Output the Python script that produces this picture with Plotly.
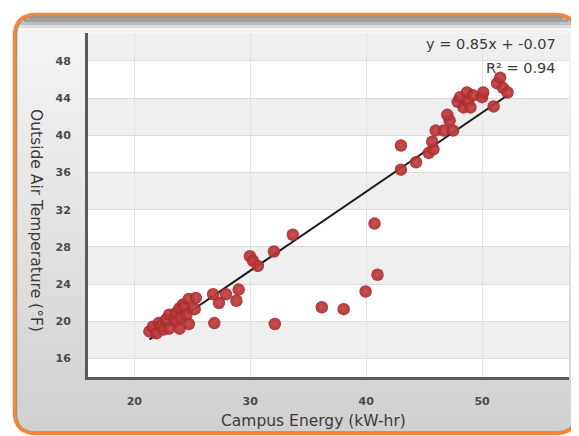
import numpy as np
import plotly.graph_objects as go

# ---- data ----
campus_energy = [21.3, 21.6, 21.9, 22.1, 22.3, 22.5, 22.75, 23.0, 23.0, 23.4, 23.6, 23.6, 23.9,
                 23.9, 24.0, 24.2, 24.3, 24.5, 24.7, 24.7, 25.2, 25.3, 26.8, 26.9, 27.3, 27.9,
                 28.8, 29.0, 29.97, 30.23, 30.66, 32.04, 33.67, 32.12, 36.17, 38.06, 39.95,
                 40.98, 40.72, 43.0, 43.0, 44.3, 45.4, 45.8, 45.7, 46.0, 46.7, 47.5, 47.2, 47.0,
                 47.9, 48.1, 48.4, 48.7, 48.8, 49.0, 49.2, 50.0, 50.1, 51.0, 51.3, 51.56, 51.8, 52.2]
outside_temp = [18.9, 19.4, 18.7, 19.8, 19.5, 19.1, 20.2, 19.2, 20.7, 20.3, 20.0, 20.9, 19.2,
                21.4, 20.4, 21.8, 21.6, 20.7, 19.7, 22.4, 21.3, 22.5, 22.9, 19.8, 21.95, 22.9,
                22.2, 23.4, 27.0, 26.5, 25.95, 27.5, 29.3, 19.7, 21.5, 21.3, 23.2,
                25.0, 30.5, 38.9, 36.3, 37.1, 38.1, 38.5, 39.3, 40.5, 40.5, 40.5, 41.6, 42.2,
                43.6, 44.1, 43.0, 44.6, 43.6, 43.0, 44.3, 44.1, 44.6, 43.1, 45.6, 46.2, 45.1, 44.6]
slope = 0.85
intercept = -0.07
r_squared = 0.94
x_ticks = [20, 30, 40, 50]
y_ticks = [16, 20, 24, 28, 32, 36, 40, 44, 48]
x_title = "Campus Energy (kW-hr)"
y_title = "Outside Air Temperature (°F)"

# ---- layout geometry (screen pixels; page body has an 8px margin) ----
OFF = 8
W, H = 579 - OFF, 436 - OFF
L, R, T, B = 88, 569, 33, 377          # plot area on screen
PW, PH = R - L, B - T


def px(x):
    return (x - L) / PW


def py(y):
    return (B - y) / PH


def rounded_path(x0, y0, x1, y1, r):
    pts = [
        f"M {px(x0 + r)},{py(y0)}",
        f"L {px(x1 - r)},{py(y0)}",
        f"Q {px(x1)},{py(y0)} {px(x1)},{py(y0 + r)}",
        f"L {px(x1)},{py(y1 - r)}",
        f"Q {px(x1)},{py(y1)} {px(x1 - r)},{py(y1)}",
        f"L {px(x0 + r)},{py(y1)}",
        f"Q {px(x0)},{py(y1)} {px(x0)},{py(y1 - r)}",
        f"L {px(x0)},{py(y0 + r)}",
        f"Q {px(x0)},{py(y0)} {px(x0 + r)},{py(y0)}",
        "Z",
    ]
    return " ".join(pts)


def lerp(c1, c2, t):
    return tuple(int(round(a + (b - a) * t)) for a, b in zip(c1, c2))


def panel_color(y):
    if y < 20:
        c = (156, 156, 156)
    elif y < 29:
        c = lerp((156, 156, 156), (244, 244, 244), (y - 20) / 9)
    else:
        c = lerp((245, 245, 245), (208, 208, 208), (y - 29) / (433 - 29))
    return "rgb(%d,%d,%d)" % c


shapes = []
pl, pt, pr, pb, rad = 16, 16, 576, 433, 20
y = pt
step = 3
while y < pb:
    y2 = min(y + step, pb)
    m = (y + y2) / 2
    dx = 0
    if m < pt + rad:
        d = pt + rad - m
        dx = rad - np.sqrt(max(rad ** 2 - d ** 2, 0))
    elif m > pb - rad:
        d = m - (pb - rad)
        dx = rad - np.sqrt(max(rad ** 2 - d ** 2, 0))
    shapes.append(dict(type="rect", xref="paper", yref="paper",
                       x0=px(pl + dx), x1=px(pr - dx), y0=py(y2 + 0.5), y1=py(y),
                       fillcolor=panel_color(m), line=dict(width=0), layer="below"))
    y = y2

shapes.append(dict(type="rect", xref="paper", yref="paper", x0=0, x1=1, y0=0, y1=1,
                   fillcolor="white", line=dict(width=0), layer="below"))
band_edges = [16, 20, 24, 28, 32, 36, 40, 44, 48, 51]
for i in range(len(band_edges) - 1):
    if i % 2 == 0:
        shapes.append(dict(type="rect", xref="paper", yref="y", x0=0, x1=1,
                           y0=band_edges[i], y1=band_edges[i + 1],
                           fillcolor="#efeff0", line=dict(width=0), layer="below"))

shapes.append(dict(type="path", xref="paper", yref="paper",
                   path=rounded_path(16.5, 16.5, 575.5, 432, 19),
                   line=dict(color="#8f8f8f", width=1.5), fillcolor="rgba(0,0,0,0)", layer="above"))
shapes.append(dict(type="path", xref="paper", yref="paper",
                   path=rounded_path(14.5, 14.5, 577, 433.5, 22),
                   line=dict(color="rgb(244,134,58)", width=3.5), fillcolor="rgba(0,0,0,0)", layer="above"))

fig = go.Figure()

xmin, xmax = min(campus_energy), max(campus_energy)
line_x = np.array([xmin, xmax])
fig.add_trace(go.Scatter(x=line_x, y=slope * line_x + intercept, mode="lines",
                         line=dict(color="#1a1a1a", width=2), hoverinfo="skip", showlegend=False))
fig.add_trace(go.Scatter(x=campus_energy, y=outside_temp, mode="markers",
                         marker=dict(size=12.5, color="#a92a2c",
                                     gradient=dict(type="radial", color="#c64446"),
                                     line=dict(width=0), opacity=0.92),
                         showlegend=False))

font_family = "DejaVu Sans"
annotations = [
    dict(text=f"y = {slope:.2f}x + {intercept:.2f}", xref="paper", yref="paper",
         x=px(558), y=py(44), xanchor="right", yanchor="middle", showarrow=False,
         font=dict(family=font_family, size=14.5, color="#3a3a3a")),
    dict(text=f"R² = {r_squared:.2f}", xref="paper", yref="paper",
         x=px(558), y=py(68), xanchor="right", yanchor="middle", showarrow=False,
         font=dict(family=font_family, size=14.5, color="#3a3a3a")),
    dict(text=x_title, xref="paper", yref="paper", x=px(313), y=py(421),
         xanchor="center", yanchor="middle", showarrow=False,
         font=dict(family=font_family, size=15.5, color="#3a3a3a")),
    dict(text=y_title, xref="paper", yref="paper", x=px(36), y=py(220),
         xanchor="center", yanchor="middle", showarrow=False, textangle=90,
         font=dict(family=font_family, size=15.5, color="#3a3a3a")),
]

fig.update_layout(
    width=W, height=H,
    margin=dict(l=L - OFF, r=579 - R, t=T - OFF, b=436 - B, pad=0),
    paper_bgcolor="white", plot_bgcolor="rgba(0,0,0,0)",
    shapes=shapes, annotations=annotations, showlegend=False,
    xaxis=dict(range=[16, 57.5], tickvals=x_ticks, showgrid=True, gridcolor="#e2e2e4",
               gridwidth=1, zeroline=False, showline=True, linecolor="#5a5a5a", linewidth=3,
               ticks="", ticklabelstandoff=12,
               tickfont=dict(family=font_family, size=11, color="#4a4a4a", weight="bold")),
    yaxis=dict(range=[14, 51], tickvals=y_ticks, showgrid=True, gridcolor="#dcdcde",
               gridwidth=1, zeroline=False, showline=True, linecolor="#5a5a5a", linewidth=3,
               ticks="", ticklabelstandoff=12,
               tickfont=dict(family=font_family, size=11, color="#4a4a4a", weight="bold")),
)

fig.write_html("out.html")
